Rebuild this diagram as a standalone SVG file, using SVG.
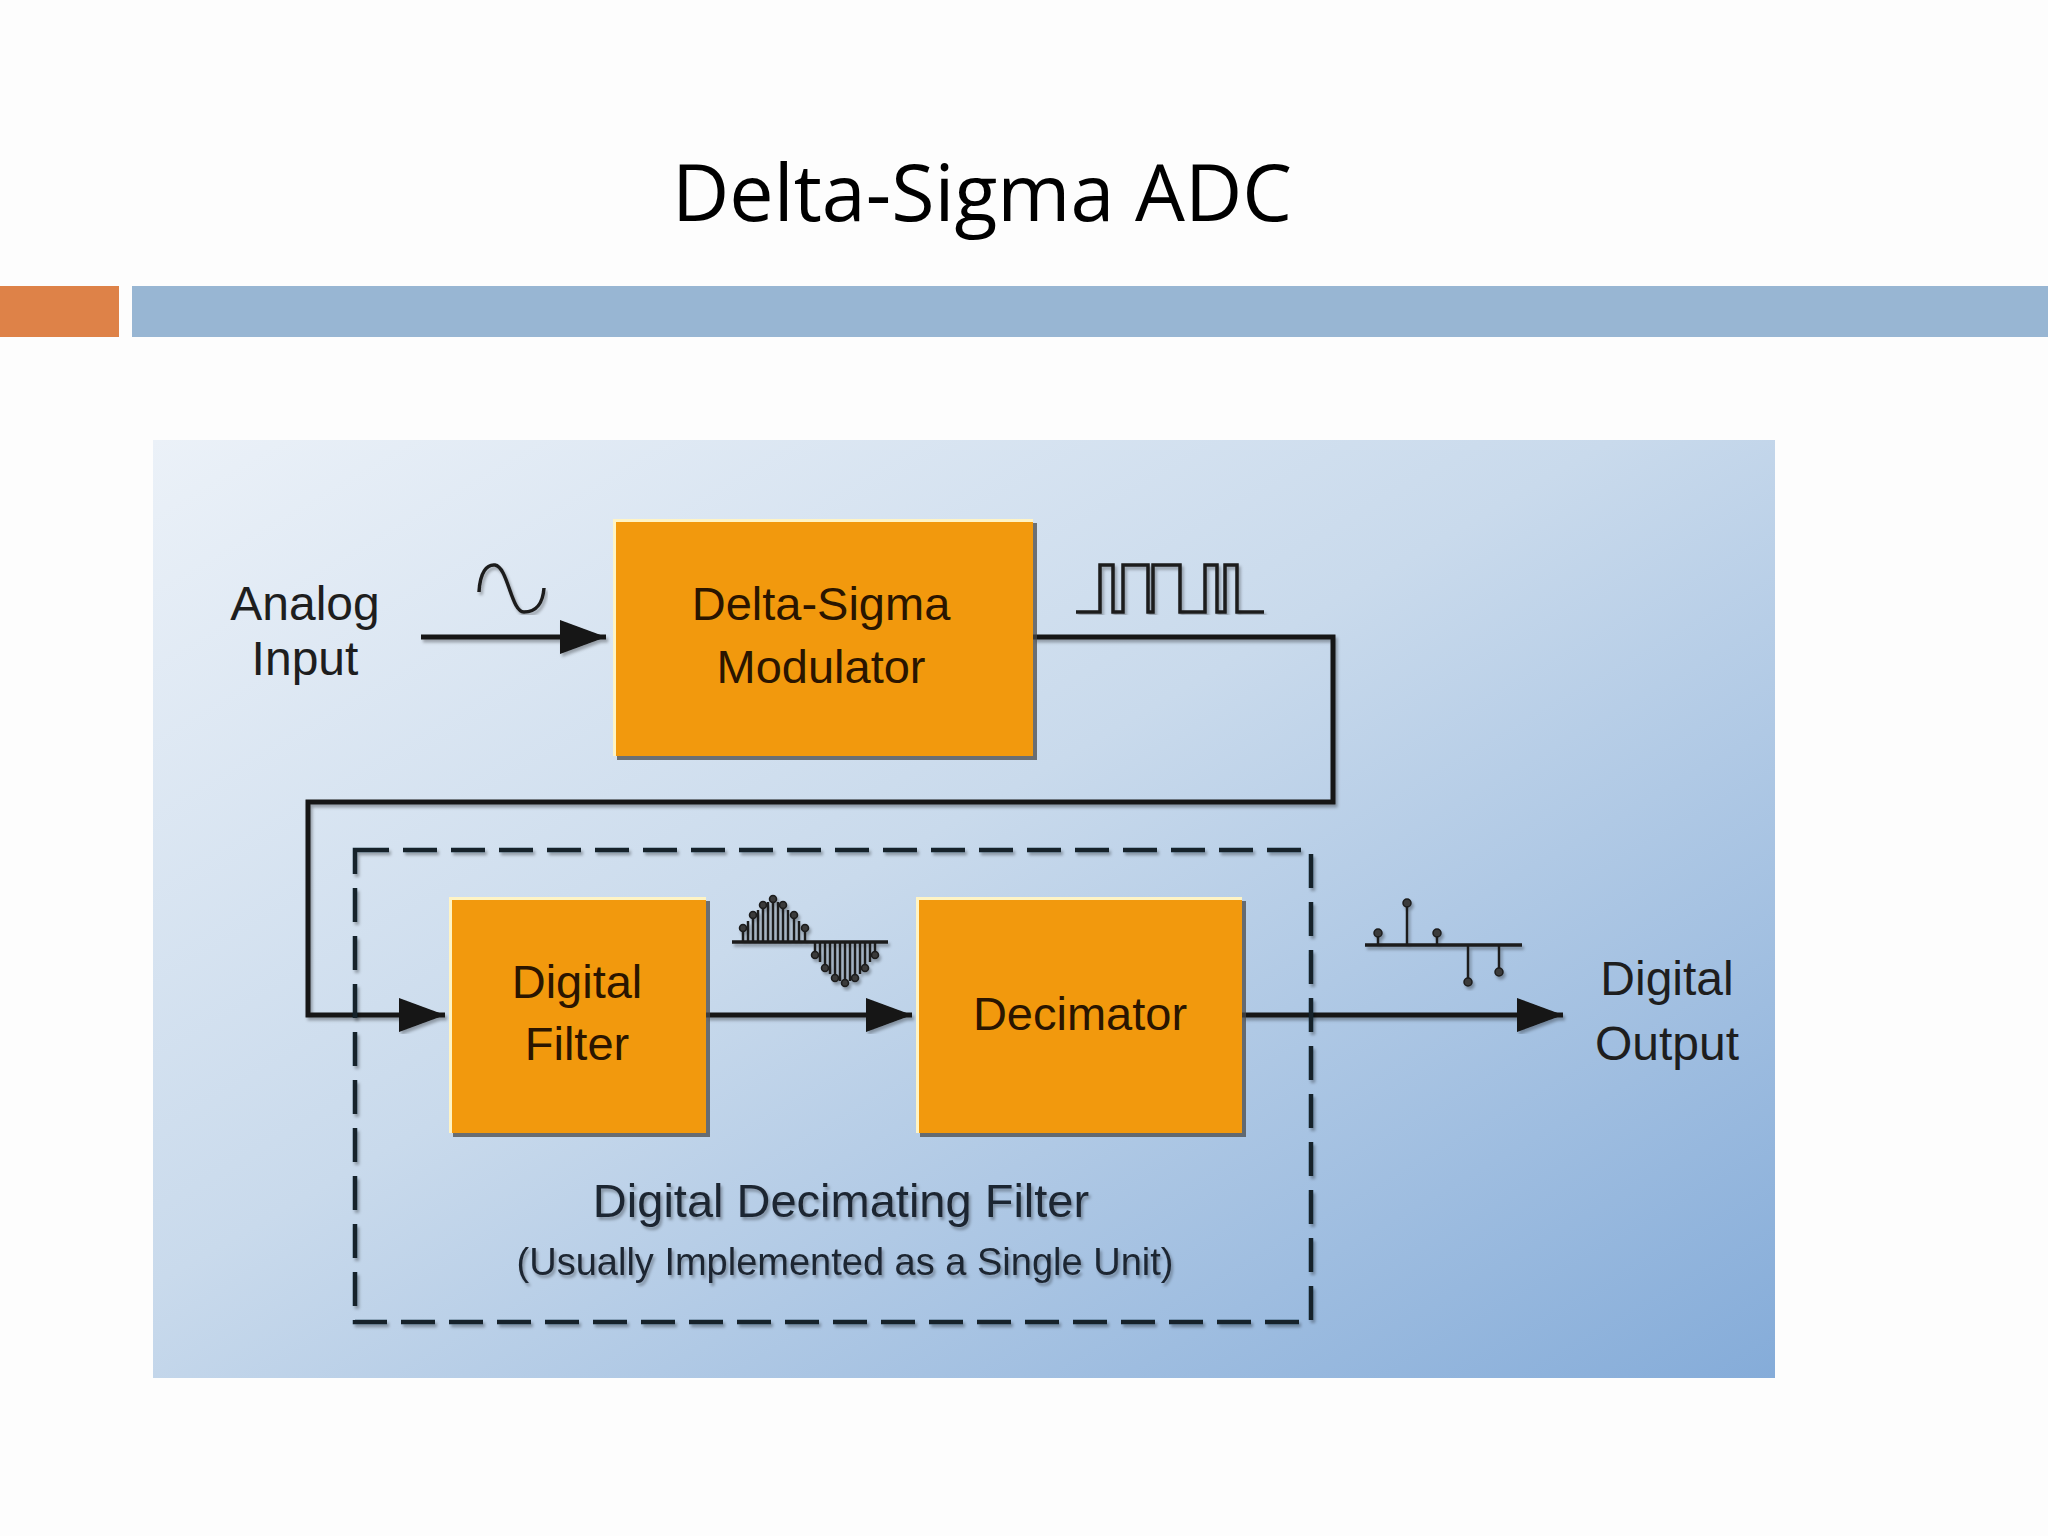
<svg xmlns="http://www.w3.org/2000/svg" width="2048" height="1536" viewBox="0 0 2048 1536">
<style>
.lbl{font-family:"Liberation Sans",Arial,sans-serif;font-size:48px;fill:#1e1e1e;text-anchor:middle}
.blbl{font-family:"Liberation Sans",Arial,sans-serif;font-size:47px;fill:#2a1500;text-anchor:middle}
.cap{font-family:"Liberation Sans",Arial,sans-serif;fill:#1e2530;text-anchor:middle}
.box{fill:#F2990D}
.boxsh{fill:#4a4a4a;opacity:0.75}
.hl{fill:none;stroke:#FFF4C4;stroke-width:3}
.wire{fill:none;stroke:#181818;stroke-width:5}
.sig{fill:none;stroke:#1c1c1c;stroke-width:3.5}
.stem{stroke:#1c1c1c;stroke-width:2.5}
.dot{fill:#3a3a3a;stroke:#1c1c1c;stroke-width:1.5}
.dash{fill:none;stroke:#17202c;stroke-width:4.5;stroke-dasharray:34 14}
</style>
<defs>
<linearGradient id="panelg" x1="0" y1="0" x2="1" y2="1">
<stop offset="0" stop-color="#EBF1F8"/>
<stop offset="0.45" stop-color="#C9DAEC"/>
<stop offset="1" stop-color="#85ACD9"/>
</linearGradient>
<marker id="ah" markerUnits="userSpaceOnUse" markerWidth="46" markerHeight="34" refX="46" refY="17" orient="auto">
<path d="M0,0 L46,17 L0,34 z" fill="#141414"/>
</marker>
<filter id="sh" x="-5%" y="-5%" width="110%" height="110%">
<feDropShadow dx="2" dy="3" stdDeviation="1.5" flood-color="#000" flood-opacity="0.3"/>
</filter>
</defs>

<rect x="0" y="0" width="2048" height="1536" fill="#FDFDFD"/>

<g id="title">
<text x="672" y="221" font-family="Open Sans, Liberation Sans, sans-serif" font-size="78" fill="#000" textLength="620" lengthAdjust="spacingAndGlyphs">Delta-Sigma ADC</text>
</g>
<g id="bars">
<rect x="0" y="286" width="119" height="51" fill="#DE8248"/>
<rect x="132" y="286" width="1916" height="51" fill="#98B6D3"/>
</g>

<g id="panel">
<rect x="153" y="440" width="1622" height="938" fill="url(#panelg)"/>
</g>

<g id="connectors" filter="url(#sh)">
<path class="wire" d="M421,637 H606" marker-end="url(#ah)"/>
<path class="wire" d="M1033,637 H1333 V802 H308 V1015 H445" marker-end="url(#ah)"/>
<path class="wire" d="M706,1015 H912" marker-end="url(#ah)"/>
<path class="wire" d="M1242,1015 H1563" marker-end="url(#ah)"/>
</g>

<g id="dashed-group" filter="url(#sh)">
<rect class="dash" x="355" y="850" width="956" height="472"/>
<text class="cap" x="841" y="1217" font-size="47">Digital Decimating Filter</text>
<text class="cap" x="845" y="1275" font-size="38">(Usually Implemented as a Single Unit)</text>
</g>

<g id="analog-input">
<text class="lbl" x="305" y="620">Analog</text>
<text class="lbl" x="305" y="675">Input</text>
<path class="sig" filter="url(#sh)" d="M479,592 C480,572 487,564 495,565 C508,567 511,612 524,612 C537,612 543,602 544,588"/>
</g>

<g id="modulator">
<rect class="boxsh" x="617" y="523" width="420" height="237"/>
<rect class="box" x="613" y="519" width="420" height="237"/>
<path class="hl" d="M614.5,756 V520.5 H1033"/>
<text class="blbl" x="821" y="620" font-size="48">Delta-Sigma</text>
<text class="blbl" x="821" y="683">Modulator</text>
</g>

<g id="bitstream" filter="url(#sh)">
<path class="sig" d="M1076,612 H1100 V565 H1113 V612 H1123 V565 H1148 V612 H1153 V565 H1180 V612 H1205 V565 H1217 V612 H1225 V565 H1237 V612 H1264"/>
</g>

<g id="digital-filter">
<rect class="boxsh" x="453" y="901" width="257" height="236"/>
<rect class="box" x="449" y="897" width="257" height="236"/>
<path class="hl" d="M450.5,1133 V898.5 H706"/>
<text class="blbl" x="577" y="998">Digital</text>
<text class="blbl" x="577" y="1060">Filter</text>
</g>

<g id="sampled-sine" filter="url(#sh)">
<path class="sig" d="M732,942 H888"/>
<g class="stem">
<line x1="743" y1="942" x2="743" y2="928"/>
<line x1="748" y1="942" x2="748" y2="921"/>
<line x1="753" y1="942" x2="753" y2="915"/>
<line x1="758" y1="942" x2="758" y2="910"/>
<line x1="763" y1="942" x2="763" y2="905"/>
<line x1="768" y1="942" x2="768" y2="902"/>
<line x1="773" y1="942" x2="773" y2="899"/>
<line x1="778" y1="942" x2="778" y2="902"/>
<line x1="783" y1="942" x2="783" y2="905"/>
<line x1="788" y1="942" x2="788" y2="910"/>
<line x1="794" y1="942" x2="794" y2="915"/>
<line x1="799" y1="942" x2="799" y2="921"/>
<line x1="805" y1="942" x2="805" y2="928"/>
<line x1="815" y1="942" x2="815" y2="955"/>
<line x1="820" y1="942" x2="820" y2="962"/>
<line x1="825" y1="942" x2="825" y2="968"/>
<line x1="830" y1="942" x2="830" y2="974"/>
<line x1="835" y1="942" x2="835" y2="978"/>
<line x1="840" y1="942" x2="840" y2="981"/>
<line x1="845" y1="942" x2="845" y2="983"/>
<line x1="850" y1="942" x2="850" y2="981"/>
<line x1="855" y1="942" x2="855" y2="978"/>
<line x1="860" y1="942" x2="860" y2="974"/>
<line x1="865" y1="942" x2="865" y2="968"/>
<line x1="870" y1="942" x2="870" y2="962"/>
<line x1="875" y1="942" x2="875" y2="955"/>
</g>
<g class="dot">
<circle cx="743" cy="928" r="3.5"/>
<circle cx="753" cy="915" r="3.5"/>
<circle cx="763" cy="905" r="3.5"/>
<circle cx="773" cy="899" r="3.5"/>
<circle cx="783" cy="905" r="3.5"/>
<circle cx="794" cy="915" r="3.5"/>
<circle cx="805" cy="928" r="3.5"/>
<circle cx="815" cy="955" r="3.5"/>
<circle cx="825" cy="968" r="3.5"/>
<circle cx="835" cy="978" r="3.5"/>
<circle cx="845" cy="983" r="3.5"/>
<circle cx="855" cy="978" r="3.5"/>
<circle cx="865" cy="968" r="3.5"/>
<circle cx="875" cy="955" r="3.5"/>
</g>
</g>

<g id="decimator">
<rect class="boxsh" x="920" y="901" width="326" height="236"/>
<rect class="box" x="916" y="897" width="326" height="236"/>
<path class="hl" d="M917.5,1133 V898.5 H1242"/>
<text class="blbl" x="1080" y="1030">Decimator</text>
</g>

<g id="sampled-output" filter="url(#sh)">
<path class="sig" d="M1365,945 H1522"/>
<g class="stem">
<line x1="1378" y1="945" x2="1378" y2="933"/>
<line x1="1407" y1="945" x2="1407" y2="903"/>
<line x1="1437" y1="945" x2="1437" y2="933"/>
<line x1="1468" y1="945" x2="1468" y2="982"/>
<line x1="1499" y1="945" x2="1499" y2="972"/>
</g>
<g class="dot">
<circle cx="1378" cy="933" r="4"/>
<circle cx="1407" cy="903" r="4"/>
<circle cx="1437" cy="933" r="4"/>
<circle cx="1468" cy="982" r="4"/>
<circle cx="1499" cy="972" r="4"/>
</g>
</g>

<g id="digital-output">
<text class="lbl" x="1667" y="995">Digital</text>
<text class="lbl" x="1667" y="1060">Output</text>
</g>
</svg>
